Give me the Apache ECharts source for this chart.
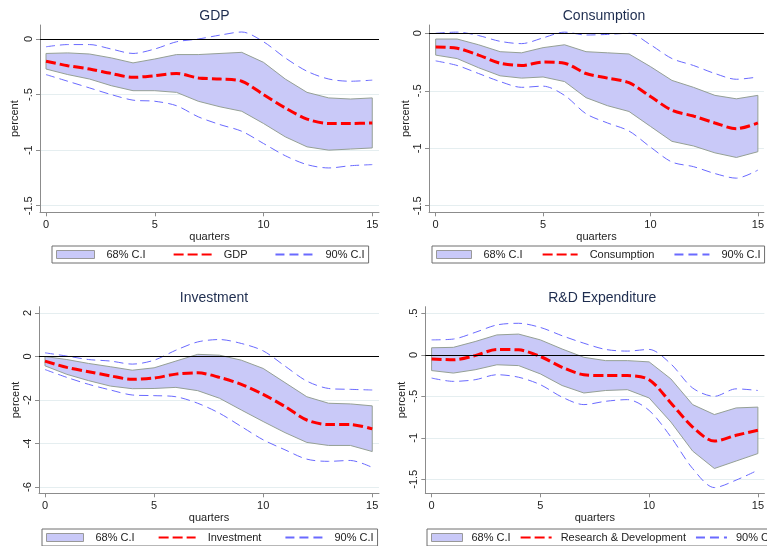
<!DOCTYPE html>
<html>
<head>
<meta charset="utf-8">
<script src="https://cdn.jsdelivr.net/npm/echarts@6/dist/echarts.min.js"></script>
<style>
  html, body { margin: 0; padding: 0; background: #fff; }
  #chart { width: 767px; height: 546px; }
</style>
</head>
<body>
<div id="chart"></div>
<script>
// Impulse responses over 16 quarters: point estimate with 68% and 90% confidence bands
const quarters = [0, 1, 2, 3, 4, 5, 6, 7, 8, 9, 10, 11, 12, 13, 14, 15];
const xTicks = [0, 5, 10, 15];

// GDP
const gdpMean = [-0.20, -0.24, -0.27, -0.31, -0.345, -0.33, -0.31, -0.35, -0.36, -0.38, -0.50, -0.62, -0.72, -0.76, -0.76, -0.755];
const gdpHi68 = [-0.13, -0.125, -0.135, -0.17, -0.215, -0.18, -0.14, -0.14, -0.13, -0.12, -0.21, -0.36, -0.48, -0.53, -0.54, -0.53];
const gdpLo68 = [-0.27, -0.32, -0.36, -0.42, -0.465, -0.465, -0.48, -0.56, -0.61, -0.65, -0.76, -0.88, -0.97, -1.00, -0.99, -0.98];
const gdpHi90 = [-0.07, -0.05, -0.05, -0.09, -0.13, -0.09, -0.025, 0.0, 0.035, 0.063, -0.025, -0.17, -0.29, -0.36, -0.38, -0.37];
const gdpLo90 = [-0.32, -0.38, -0.44, -0.50, -0.55, -0.56, -0.60, -0.70, -0.77, -0.83, -0.94, -1.05, -1.13, -1.16, -1.14, -1.13];
const gdpYTicks = [-1.5, -1, -0.5, 0];

// Consumption
const conMean = [-0.12, -0.13, -0.19, -0.26, -0.28, -0.25, -0.26, -0.35, -0.39, -0.43, -0.55, -0.67, -0.72, -0.78, -0.83, -0.78];
const conHi68 = [-0.05, -0.05, -0.10, -0.16, -0.17, -0.125, -0.10, -0.16, -0.17, -0.18, -0.29, -0.41, -0.47, -0.54, -0.57, -0.54];
const conLo68 = [-0.19, -0.22, -0.30, -0.37, -0.39, -0.38, -0.42, -0.56, -0.63, -0.68, -0.81, -0.94, -0.98, -1.04, -1.08, -1.03];
const conHi90 = [0.0, 0.01, -0.02, -0.07, -0.09, -0.04, 0.01, -0.015, -0.01, 0.0, -0.10, -0.22, -0.28, -0.35, -0.40, -0.38];
const conLo90 = [-0.24, -0.28, -0.35, -0.42, -0.47, -0.46, -0.54, -0.70, -0.78, -0.85, -0.99, -1.12, -1.16, -1.22, -1.26, -1.19];
const conYTicks = [-1.5, -1, -0.5, 0];

// Investment
const invMean = [-0.21, -0.50, -0.70, -0.89, -1.05, -0.99, -0.81, -0.75, -0.96, -1.28, -1.74, -2.30, -2.92, -3.13, -3.13, -3.33];
const invHi68 = [0.0, -0.14, -0.32, -0.47, -0.63, -0.52, -0.21, 0.10, 0.06, -0.17, -0.55, -1.20, -1.85, -2.15, -2.18, -2.27];
const invLo68 = [-0.43, -0.82, -1.11, -1.36, -1.48, -1.47, -1.42, -1.57, -1.92, -2.46, -2.99, -3.50, -3.95, -4.09, -4.09, -4.37];
const invHi90 = [0.17, 0.02, -0.14, -0.21, -0.35, -0.17, 0.29, 0.67, 0.78, 0.60, 0.26, -0.44, -1.13, -1.47, -1.51, -1.54];
const invLo90 = [-0.60, -0.96, -1.28, -1.54, -1.77, -1.80, -1.85, -2.15, -2.61, -3.22, -3.83, -4.29, -4.72, -4.82, -4.78, -5.10];
const invYTicks = [-6, -4, -2, 0, 2];

// R&D expenditure
const rdMean = [-0.05, -0.06, -0.01, 0.065, 0.06, -0.02, -0.15, -0.24, -0.25, -0.25, -0.30, -0.58, -0.87, -1.04, -0.97, -0.91];
const rdHi68 = [0.085, 0.09, 0.16, 0.24, 0.25, 0.18, 0.07, -0.03, -0.07, -0.07, -0.085, -0.29, -0.60, -0.72, -0.64, -0.63];
const rdLo68 = [-0.19, -0.22, -0.18, -0.12, -0.13, -0.23, -0.37, -0.46, -0.43, -0.42, -0.52, -0.81, -1.16, -1.37, -1.28, -1.19];
const rdHi90 = [0.18, 0.19, 0.27, 0.36, 0.38, 0.33, 0.23, 0.14, 0.065, 0.045, 0.065, -0.11, -0.40, -0.50, -0.41, -0.43];
const rdLo90 = [-0.28, -0.32, -0.30, -0.24, -0.27, -0.36, -0.51, -0.60, -0.56, -0.54, -0.67, -0.99, -1.37, -1.60, -1.51, -1.39];
const rdYTicks = [-1.5, -1, -0.5, 0, 0.5];

const panels = [
  { title: 'GDP', label: 'GDP', mean: gdpMean, hi68: gdpHi68, lo68: gdpLo68, hi90: gdpHi90, lo90: gdpLo90, yTicks: gdpYTicks },
  { title: 'Consumption', label: 'Consumption', mean: conMean, hi68: conHi68, lo68: conLo68, hi90: conHi90, lo90: conLo90, yTicks: conYTicks },
  { title: 'Investment', label: 'Investment', mean: invMean, hi68: invHi68, lo68: invLo68, hi90: invHi90, lo90: invLo90, yTicks: invYTicks },
  { title: 'R&D Expenditure', label: 'Research & Development', mean: rdMean, hi68: rdHi68, lo68: rdLo68, hi90: rdHi90, lo90: rdLo90, yTicks: rdYTicks }
];

// Panel geometry and axis extents
const layout = [
  { left: 40, top: 25, width: 339, height: 187.3, xMin: -0.276, xMax: 15.31, yMin: -1.559, yMax: 0.126, nameGap: 20,
    legend: { left: 52, top: 246, itemWidth: 38, itemGap: 27, textPad: 7 } },
  { left: 429, top: 25, width: 340, height: 187.3, xMin: -0.31, xMax: 15.28, yMin: -1.557, yMax: 0.072, nameGap: 15,
    legend: { left: 432, top: 246, itemWidth: 35, itemGap: 19, textPad: 7 } },
  { left: 39, top: 306.7, width: 340, height: 186.6, xMin: -0.275, xMax: 15.31, yMin: -6.29, yMax: 2.29, nameGap: 17.5,
    legend: { left: 42, top: 529, itemWidth: 37, itemGap: 23, textPad: 7 } },
  { left: 425.3, top: 306.7, width: 344, height: 186.6, xMin: -0.29, xMax: 15.30, yMin: -1.669, yMax: 0.58, nameGap: 13,
    legend: { left: 427, top: 529, itemWidth: 31, itemGap: 9, textPad: 4 } }
];

const FONT = '"Liberation Sans", Arial, sans-serif';
const BAND_FILL = '#c9c9f8';
const BAND_EDGE = '#95a095';
const RED = '#ff0000';
const BLUE = '#6a6aff';
const AXIS_GRAY = '#8c8c8c';
const GRID_LINE = '#e5eef0';

const pairs = arr => quarters.map((q, i) => [q, arr[i]]);
const yFmt = v => (v === 0 ? '0' : String(v).replace(/^(-?)0\./, '$1.'));

const option = {
  animation: false,
  backgroundColor: '#ffffff',
  textStyle: { fontFamily: FONT },
  title: [],
  grid: [],
  xAxis: [],
  yAxis: [],
  legend: [],
  series: []
};

panels.forEach((p, k) => {
  const g = layout[k];
  option.grid.push({ left: g.left, top: g.top, width: g.width, height: g.height, containLabel: false });

  option.title.push({
    text: p.title,
    left: g.left + g.width / 2,
    top: g.top - 21,
    textAlign: 'center',
    textStyle: { fontFamily: FONT, fontSize: 14, fontWeight: 'normal', color: '#1e2d4f' }
  });

  option.xAxis.push({
    type: 'value', gridIndex: k, min: g.xMin, max: g.xMax,
    name: 'quarters', nameLocation: 'middle', nameGap: 18,
    nameTextStyle: { fontFamily: FONT, fontSize: 11, color: '#222' },
    axisLine: { show: true, onZero: false, lineStyle: { color: AXIS_GRAY, width: 1 } },
    axisTick: { show: true, length: 4, customValues: xTicks, lineStyle: { color: AXIS_GRAY } },
    axisLabel: { show: true, customValues: xTicks, margin: 7, fontFamily: FONT, fontSize: 11, color: '#222' },
    splitLine: { show: false }
  });

  option.yAxis.push({
    type: 'value', gridIndex: k, min: g.yMin, max: g.yMax,
    name: 'percent', nameLocation: 'middle', nameGap: g.nameGap,
    nameTextStyle: { fontFamily: FONT, fontSize: 11, color: '#222' },
    axisLine: { show: true, onZero: false, lineStyle: { color: AXIS_GRAY, width: 1 } },
    axisTick: { show: true, length: 4, customValues: p.yTicks, lineStyle: { color: AXIS_GRAY } },
    axisLabel: { show: true, customValues: p.yTicks, rotate: 90, margin: 6, fontFamily: FONT, fontSize: 11, color: '#222', formatter: yFmt },
    splitLine: { show: true, lineStyle: { color: GRID_LINE, width: 1 } }
  });

  // 68% band: one outlined polygon between the lower and upper bounds
  option.series.push({
    type: 'custom', name: '68% C.I', xAxisIndex: k, yAxisIndex: k,
    data: quarters.map((q, i) => [q, p.lo68[i], p.hi68[i]]),
    encode: { x: 0, y: [1, 2] },
    silent: true, z: 2,
    itemStyle: { color: BAND_FILL },
    renderItem: (params, api) => {
      if (params.dataIndex !== 0) return null;
      const upper = quarters.map((q, i) => api.coord([q, p.hi68[i]]));
      const lower = quarters.map((q, i) => api.coord([q, p.lo68[i]])).reverse();
      return {
        type: 'polygon',
        shape: { points: upper.concat(lower) },
        style: { fill: BAND_FILL, stroke: BAND_EDGE, lineWidth: 1 }
      };
    }
  });

  // point estimate, with the zero reference line
  option.series.push({
    type: 'line', name: p.label, xAxisIndex: k, yAxisIndex: k,
    data: pairs(p.mean), symbol: 'none', smooth: 0.3, silent: true, z: 4,
    lineStyle: { color: RED, width: 3, type: [10, 4] },
    itemStyle: { color: RED },
    markLine: {
      silent: true, symbol: ['none', 'none'], label: { show: false },
      lineStyle: { color: '#000', width: 1, type: 'solid' },
      emphasis: { disabled: true },
      data: [{ yAxis: 0 }]
    }
  });

  // 90% interval bounds
  [p.hi90, p.lo90].forEach(arr => {
    option.series.push({
      type: 'line', name: '90% C.I', xAxisIndex: k, yAxisIndex: k,
      data: pairs(arr), symbol: 'none', smooth: 0.3, silent: true, z: 3,
      lineStyle: { color: BLUE, width: 1, type: [9, 5] },
      itemStyle: { color: BLUE }
    });
  });

  const lg = g.legend;
  option.legend.push({
    left: lg.left, top: lg.top, width: 600, orient: 'horizontal',
    itemWidth: lg.itemWidth, itemHeight: 8, itemGap: lg.itemGap,
    padding: [3, 4], backgroundColor: '#fff', borderColor: '#6e6e6e', borderWidth: 1, borderRadius: 0,
    selectedMode: false,
    textStyle: { fontFamily: FONT, fontSize: 11, color: '#222', padding: [0, 0, 0, lg.textPad] },
    data: [
      { name: '68% C.I', icon: 'rect', itemStyle: { color: BAND_FILL, borderColor: '#999', borderWidth: 1 } },
      { name: p.label, itemStyle: { opacity: 0 } },
      { name: '90% C.I', itemStyle: { opacity: 0 } }
    ]
  });
});

const chart = echarts.init(document.getElementById('chart'), null, { renderer: 'canvas' });
chart.setOption(option);
</script>
</body>
</html>
